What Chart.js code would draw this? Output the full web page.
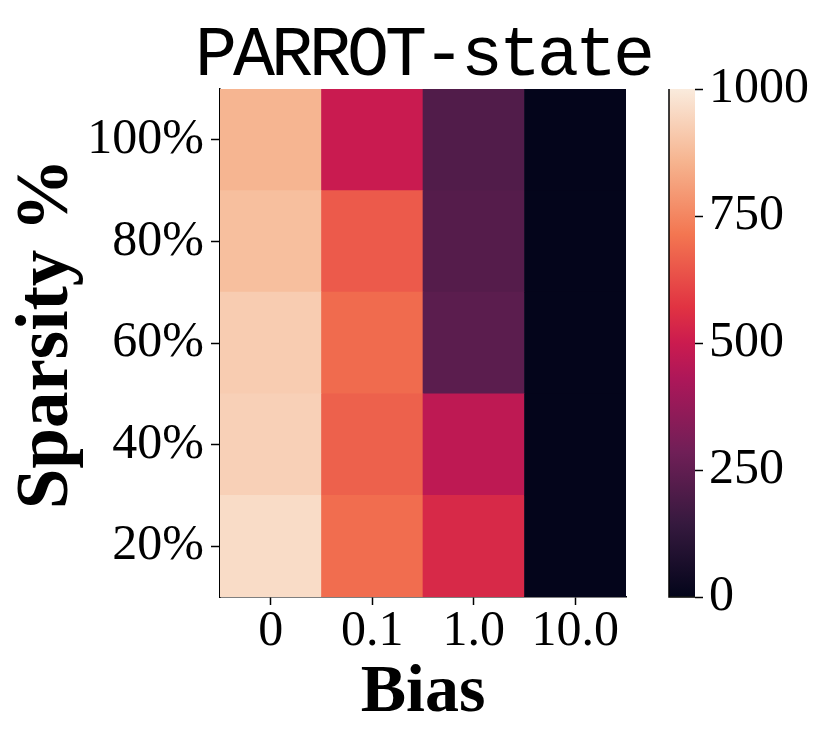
<!DOCTYPE html>
<html>
<head>
<meta charset="utf-8">
<script src="https://cdn.jsdelivr.net/npm/chart.js@4.4.1/dist/chart.umd.min.js"></script>
<style>
  html, body { margin: 0; padding: 0; background: #fff; }
  #wrap { position: relative; width: 831px; height: 742px; overflow: hidden; }
  #heat { position: absolute; left: 0; top: 0; }
  #cbar { position: absolute; left: 660px; top: 0; }
</style>
</head>
<body>
<div id="wrap">
  <canvas id="heat" width="831" height="742"></canvas>
  <canvas id="cbar" width="171" height="742"></canvas>
</div>
<script>
// heatmap data
const chartTitle = 'PARROT-state';
const biasLabels = ['0', '0.1', '1.0', '10.0'];
const sparsityLabels = ['20%', '40%', '60%', '80%', '100%']; // bottom -> top
const row20 = [960, 695, 540, 2];
const row40 = [930, 670, 470, 2];
const row60 = [920, 690, 235, 2];
const row80 = [885, 655, 220, 2];
const row100 = [860, 495, 210, 2];
const rows = [row20, row40, row60, row80, row100];
const vMin = 0, vMax = 1000;
const cbarTicks = [0, 250, 500, 750, 1000];

// seaborn "rocket" colormap, sampled
const rocketStops = [
    [0.000, [3, 5, 26]],
    [0.143, [53, 25, 62]],
    [0.286, [112, 31, 87]],
    [0.429, [173, 23, 89]],
    [0.500, [203, 27, 79]],
    [0.571, [225, 51, 66]],
    [0.714, [243, 118, 81]],
    [0.857, [246, 180, 143]],
    [1.000, [250, 235, 221]]
];

function rocket(t) {
    t = Math.max(0, Math.min(1, t));
    for (let i = 1; i < rocketStops.length; i++) {
        const [t1, c1] = rocketStops[i];
        const [t0, c0] = rocketStops[i - 1];
        if (t <= t1) {
            const f = (t - t0) / (t1 - t0);
            const c = c0.map((v, k) => Math.round(v + (c1[k] - v) * f));
            return `rgb(${c[0]},${c[1]},${c[2]})`;
        }
    }
    return 'rgb(250,235,221)';
}

const serif = '"Liberation Serif", "Times New Roman", serif';
const tickFont = { family: serif, size: 50 };
const labelFont = { family: serif, size: 68, weight: 'bold' };

// title drawn centred over the plot area
const titlePlugin = {
    id: 'monoTitle',
    afterDraw(chart) {
        const { ctx, chartArea } = chart;
        ctx.save();
        ctx.font = '70px "Liberation Mono", "DejaVu Sans Mono", monospace';
        if ('letterSpacing' in ctx) ctx.letterSpacing = '-4px';
        ctx.fillStyle = '#000';
        ctx.textAlign = 'center';
        ctx.textBaseline = 'alphabetic';
        ctx.fillText(chartTitle, (chartArea.left + chartArea.right) / 2, 75);
        ctx.restore();
    }
};

new Chart(document.getElementById('heat'), {
    type: 'bar',
    data: {
        labels: biasLabels,
        datasets: rows.map((vals, r) => ({
            data: vals.map(() => [r, r + 1]),
            backgroundColor: vals.map(v => rocket((v - vMin) / (vMax - vMin))),
            borderWidth: 0,
            barPercentage: 1,
            categoryPercentage: 1,
            grouped: false
        }))
    },
    options: {
        responsive: false,
        animation: false,
        layout: { padding: { left: 0, right: 205, top: 89, bottom: 0 } },
        plugins: {
            legend: { display: false },
            tooltip: { enabled: false },
            title: { display: false }
        },
        scales: {
            x: {
                type: 'category',
                offset: true,
                grid: { offset: false, drawOnChartArea: false, drawTicks: true, tickLength: 8, tickColor: '#000', tickWidth: 1.5 },
                border: { display: true, color: '#000', width: 1.5 },
                ticks: { color: '#000', font: tickFont, padding: -3, maxRotation: 0, autoSkip: false },
                title: { display: true, text: 'Bias', color: '#000', font: labelFont, padding: { top: 0, bottom: 8 } },
                afterFit: s => { s.height = 145; }
            },
            y: {
                type: 'linear',
                min: 0,
                max: rows.length,
                afterBuildTicks: s => { s.ticks = sparsityLabels.map((_, i) => ({ value: i + 0.5 })); },
                grid: { drawOnChartArea: false, drawTicks: true, tickLength: 9, tickColor: '#000', tickWidth: 1.5 },
                border: { display: true, color: '#000', width: 1.5 },
                ticks: {
                    color: '#000', font: tickFont, padding: 7,
                    callback: v => sparsityLabels[Math.round(v - 0.5)]
                },
                title: { display: true, text: ' Sparsity %', color: '#000', font: { family: serif, size: 73, weight: 'bold' }, padding: { top: 4, bottom: 0 } },
                afterFit: s => { s.width = 220; }
            }
        }
    },
    plugins: [titlePlugin]
});

// colorbar: one floating bar filled with the colormap
const cbarEdges = {
    id: 'cbarEdges',
    afterDatasetsDraw(chart) {
        const { ctx, chartArea: a } = chart;
        ctx.save();
        ctx.strokeStyle = '#000';
        ctx.lineWidth = 1.5;
        ctx.beginPath();
        ctx.moveTo(a.left, a.top);
        ctx.lineTo(a.left, a.bottom);
        ctx.lineTo(a.right, a.bottom);
        ctx.stroke();
        ctx.restore();
    }
};

new Chart(document.getElementById('cbar'), {
    type: 'bar',
    data: {
        labels: [''],
        datasets: [{
            data: [[vMin, vMax]],
            backgroundColor: ctx => {
                const a = ctx.chart.chartArea;
                if (!a) return '#000';
                const g = ctx.chart.ctx.createLinearGradient(0, a.bottom, 0, a.top);
                rocketStops.forEach(([t]) => g.addColorStop(t, rocket(t)));
                return g;
            },
            borderWidth: 0,
            barPercentage: 1,
            categoryPercentage: 1
        }]
    },
    options: {
        responsive: false,
        animation: false,
        layout: { padding: { left: 9, right: 0, top: 89, bottom: 145 } },
        plugins: { legend: { display: false }, tooltip: { enabled: false } },
        scales: {
            x: { display: false },
            y: {
                position: 'right',
                min: vMin,
                max: vMax,
                afterBuildTicks: s => { s.ticks = cbarTicks.map(v => ({ value: v })); },
                grid: { drawOnChartArea: false, drawTicks: true, tickLength: 8, tickColor: '#000', tickWidth: 1.5 },
                border: { display: false },
                ticks: { color: '#000', font: tickFont, padding: 6, callback: v => String(v) },
                afterFit: s => { s.width = 136; }
            }
        }
    },
    plugins: [cbarEdges]
});
</script>
</body>
</html>
